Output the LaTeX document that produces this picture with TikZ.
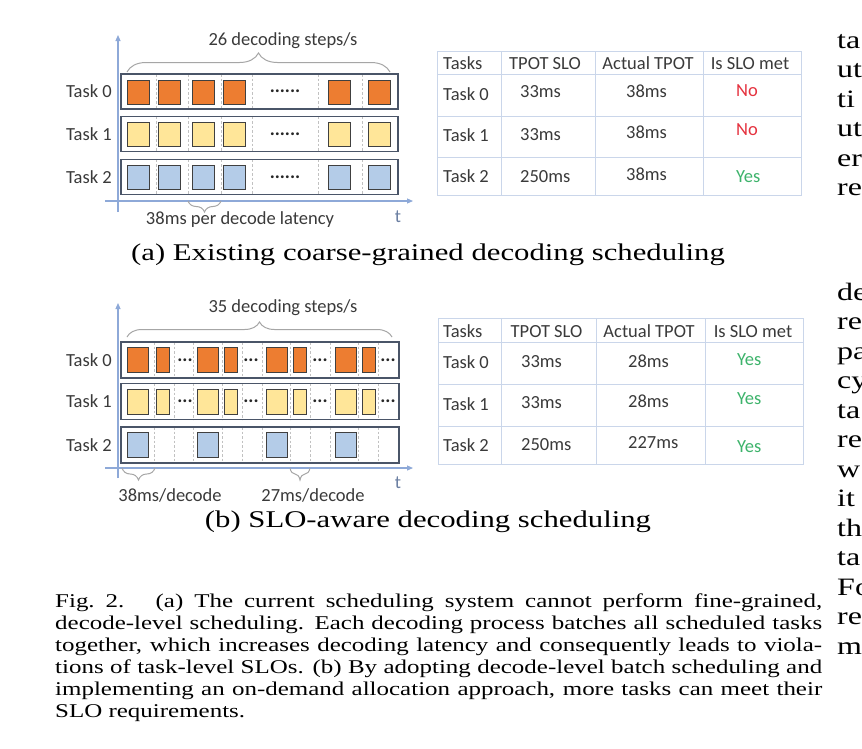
\documentclass[tikz,border=0pt]{standalone}
\usepackage{fontspec}
\setmainfont{Liberation Serif}[FakeStretch=1.28]
\newfontfamily\figsans{Carlito}
\usepackage{xcolor}
\usetikzlibrary{arrows.meta,decorations.pathreplacing}
\definecolor{orangeblk}{HTML}{ED7D31}
\definecolor{yellowblk}{HTML}{FFE699}
\definecolor{blueblk}{HTML}{B4CCE8}
\definecolor{lanecol}{HTML}{4A5568}
\definecolor{axiscol}{HTML}{8EA9D8}
\definecolor{bracecol}{HTML}{A6A6A6}
\definecolor{tabcol}{HTML}{CAD6EA}
\definecolor{txtcol}{HTML}{3A3A3A}
\definecolor{nocol}{HTML}{E5323F}
\definecolor{yescol}{HTML}{3DB36B}

\begin{document}
\begin{tikzpicture}[x=1pt,y=-1pt,>=stealth,
  lane/.style={draw=lanecol,line width=1.5pt},
  slot/.style={draw=bracecol!70,line width=0.7pt,dash pattern=on 2.5pt off 2pt},
  blk/.style={draw=black!75,line width=1pt,fill=#1},
  ax/.style={draw=axiscol,line width=1.1pt,-{Triangle[length=6pt,width=5pt]}},
  brc/.style={draw=bracecol,line width=1pt,decorate,decoration={brace,amplitude=#1}},
  lbl/.style={inner sep=0pt,text=txtcol,font=\figsans\fontsize{18.5}{22}\selectfont},
  dotsn/.style={inner sep=0pt,text=black!85,font=\figsans\bfseries\fontsize{19}{22}\selectfont},
  tabline/.style={draw=tabcol,line width=1pt},
  subtxt/.style={inner sep=0pt,anchor=base,font=\fontsize{24}{29.5}\selectfont},
  captxt/.style={inner sep=0pt,anchor=base west,font=\fontsize{19.5}{23.5}\selectfont},
  bodytxt/.style={inner sep=0pt,anchor=base west,font=\fontsize{25}{29.5}\selectfont}]
\useasboundingbox[fill=white] (0,0) rectangle (862,748);

% (a) coarse-grained
\foreach \yt/\fc [count=\r from 0] in {74/orangeblk,116.5/yellowblk,159.5/blueblk}{
  \foreach \xs in {156,188,221,252,318,362} \draw[slot] (\xs,\yt) -- (\xs,\yt+35);
  \draw[lane] (121,\yt) rectangle (398,\yt+35);
  \foreach \xl in {127,158,192,223,328,368} \draw[blk=\fc] (\xl,\yt+6) rectangle ++(22,24);
  \node[dotsn] (adots\r) at (285,\yt+17.5) {......};
  \node[lbl,anchor=base east] (alab\r) at (112,\yt+23.7) {Task \r};
}
\coordinate (ay0) at (118,212); \coordinate (ay1) at (118,35);
\coordinate (ax0) at (105,201); \coordinate (ax1) at (413,201);
\draw[ax] (ay0) -- (ay1);
\draw[ax] (ax0) -- (ax1);
\node[lbl,anchor=base,text=axiscol!75!black] (at) at (398,222) {t};
\coordinate (abl) at (127,72); \coordinate (abr) at (390,72);
\draw[brc=19] (abl) -- (abr);
\node[lbl,anchor=base] (asteps) at (283,45) {26 decoding steps/s};
\coordinate (adl) at (188,201); \coordinate (adr) at (221,201);
\draw[brc=11] (adr) -- (adl);
\node[lbl,anchor=base] (alat) at (240,224) {38ms per decode latency};

\draw[tabline] (437,51) rectangle (801,195);
\foreach \yy in {74,116,157} \draw[tabline] (437,\yy) -- (801,\yy);
\foreach \xx in {501,595,703} \draw[tabline] (\xx,51) -- (\xx,195);
\node[lbl,anchor=base west] (tah1) at (443,69) {Tasks};
\node[lbl,anchor=base] (tah2) at (545,69) {TPOT SLO};
\node[lbl,anchor=base] (tah3) at (648,69) {Actual TPOT};
\node[lbl,anchor=base] (tah4) at (750,69) {Is SLO met};
\foreach \nm/\slo/\act/\met/\mc/\yn/\ys/\ya/\ym [count=\i] in
  {Task 0/33ms/38ms/No/nocol/100/97/97/96,
   Task 1/33ms/38ms/No/nocol/141/140/138/135,
   Task 2/250ms/38ms/Yes/yescol/182/182/180/182}{
  \node[lbl,anchor=base west] (ta\i n) at (443,\yn) {\nm};
  \node[lbl,anchor=base west] (ta\i s) at (520,\ys) {\slo};
  \node[lbl,anchor=base west] (ta\i a) at (626,\ya) {\act};
  \node[lbl,anchor=base west,text=\mc] (ta\i m) at (736,\ym) {\met};
}
\node[subtxt] (suba) at (428,260) {(a) Existing coarse-grained decoding scheduling};

% (b) SLO-aware
\foreach \yt/\fc [count=\r from 0] in {342/orangeblk,383.5/yellowblk,427/blueblk}{
  \foreach \xs in {154,174,193,222,242,262,290,310,330,358,378} \draw[slot] (\xs,\yt) -- (\xs,\yt+36);
  \draw[lane] (121,\yt) rectangle (399,\yt+36);
  \foreach \xl in {127,197,266,335} \draw[blk=\fc] (\xl,\yt+5.5) rectangle ++(21,25);
  \node[lbl,anchor=base east] (blab\r) at (112,\yt+24.2) {Task \r};
}
\foreach \yt/\fc [count=\r from 0] in {342/orangeblk,383.5/yellowblk}{
  \foreach \xl/\xd [count=\k] in {156/185,224/251,293/320,362/388}{
    \draw[blk=\fc] (\xl,\yt+5.5) rectangle ++(13,25);
    \node[dotsn] (bdots\r\k) at (\xd,\yt+18) {...};
  }
}
\coordinate (by0) at (118,478); \coordinate (by1) at (118,303);
\coordinate (bx0) at (105,468); \coordinate (bx1) at (413,468);
\draw[ax] (by0) -- (by1);
\draw[ax] (bx0) -- (bx1);
\node[lbl,anchor=base,text=axiscol!75!black] (bt) at (398,488) {t};
\coordinate (bbl) at (127,337); \coordinate (bbr) at (392,337);
\draw[brc=15] (bbl) -- (bbr);
\node[lbl,anchor=base] (bsteps) at (283,312) {35 decoding steps/s};
\coordinate (bd1l) at (122,468); \coordinate (bd1r) at (155,468);
\draw[brc=12] (bd1r) -- (bd1l);
\node[lbl,anchor=base] (blat1) at (170,501) {38ms/decode};
\coordinate (bd2l) at (290,468); \coordinate (bd2r) at (310,468);
\draw[brc=12] (bd2r) -- (bd2l);
\node[lbl,anchor=base] (blat2) at (313,501) {27ms/decode};

\draw[tabline] (438,318) rectangle (803,464);
\foreach \yy in {342,384,426} \draw[tabline] (438,\yy) -- (803,\yy);
\foreach \xx in {501,596,705} \draw[tabline] (\xx,318) -- (\xx,464);
\node[lbl,anchor=base west] (tbh1) at (443,337) {Tasks};
\node[lbl,anchor=base] (tbh2) at (546.5,337) {TPOT SLO};
\node[lbl,anchor=base] (tbh3) at (649,337) {Actual TPOT};
\node[lbl,anchor=base] (tbh4) at (753,337) {Is SLO met};
\foreach \nm/\slo/\act/\yn/\ys/\ya/\ym [count=\i] in
  {Task 0/33ms/28ms/368/367/367/365,
   Task 1/33ms/28ms/410/408/407/404,
   Task 2/250ms/227ms/451/450/448/452}{
  \node[lbl,anchor=base west] (tb\i n) at (443,\yn) {\nm};
  \node[lbl,anchor=base west] (tb\i s) at (521,\ys) {\slo};
  \node[lbl,anchor=base west] (tb\i a) at (628,\ya) {\act};
  \node[lbl,anchor=base west,text=yescol] (tb\i m) at (737,\ym) {Yes};
}
\node[subtxt] (subb) at (428,527) {(b) SLO-aware decoding scheduling};

% caption
\node[captxt] (cap1) at (55,607) {\makebox[767pt][s]{Fig.~2.\hspace{0.45em} (a) The current scheduling system cannot perform fine-grained,}};
\node[captxt] (cap2) at (55,629) {\makebox[767pt][s]{decode-level scheduling. Each decoding process batches all scheduled tasks}};
\node[captxt] (cap3) at (55,651) {\makebox[767pt][s]{together, which increases decoding latency and consequently leads to viola-}};
\node[captxt] (cap4) at (55,673) {\makebox[767pt][s]{tions of task-level SLOs. (b) By adopting decode-level batch scheduling and}};
\node[captxt] (cap5) at (55,695) {\makebox[767pt][s]{implementing an on-demand allocation approach, more tasks can meet their}};
\node[captxt] (cap6) at (55,717) {SLO requirements.};

% next column
\foreach \w [count=\i from 0] in {ta,ut,ti,ut,er,re}
  \node[bodytxt] (rca\i) at (837,48+29.5*\i) {\w};
\foreach \w [count=\i from 0] in {de,re,pa,cy,ta,re,w,it,th,ta,Fo,re,m}
  \node[bodytxt] (rcb\i) at (837,300+29.5*\i) {\w};
\end{tikzpicture}
\end{document}
